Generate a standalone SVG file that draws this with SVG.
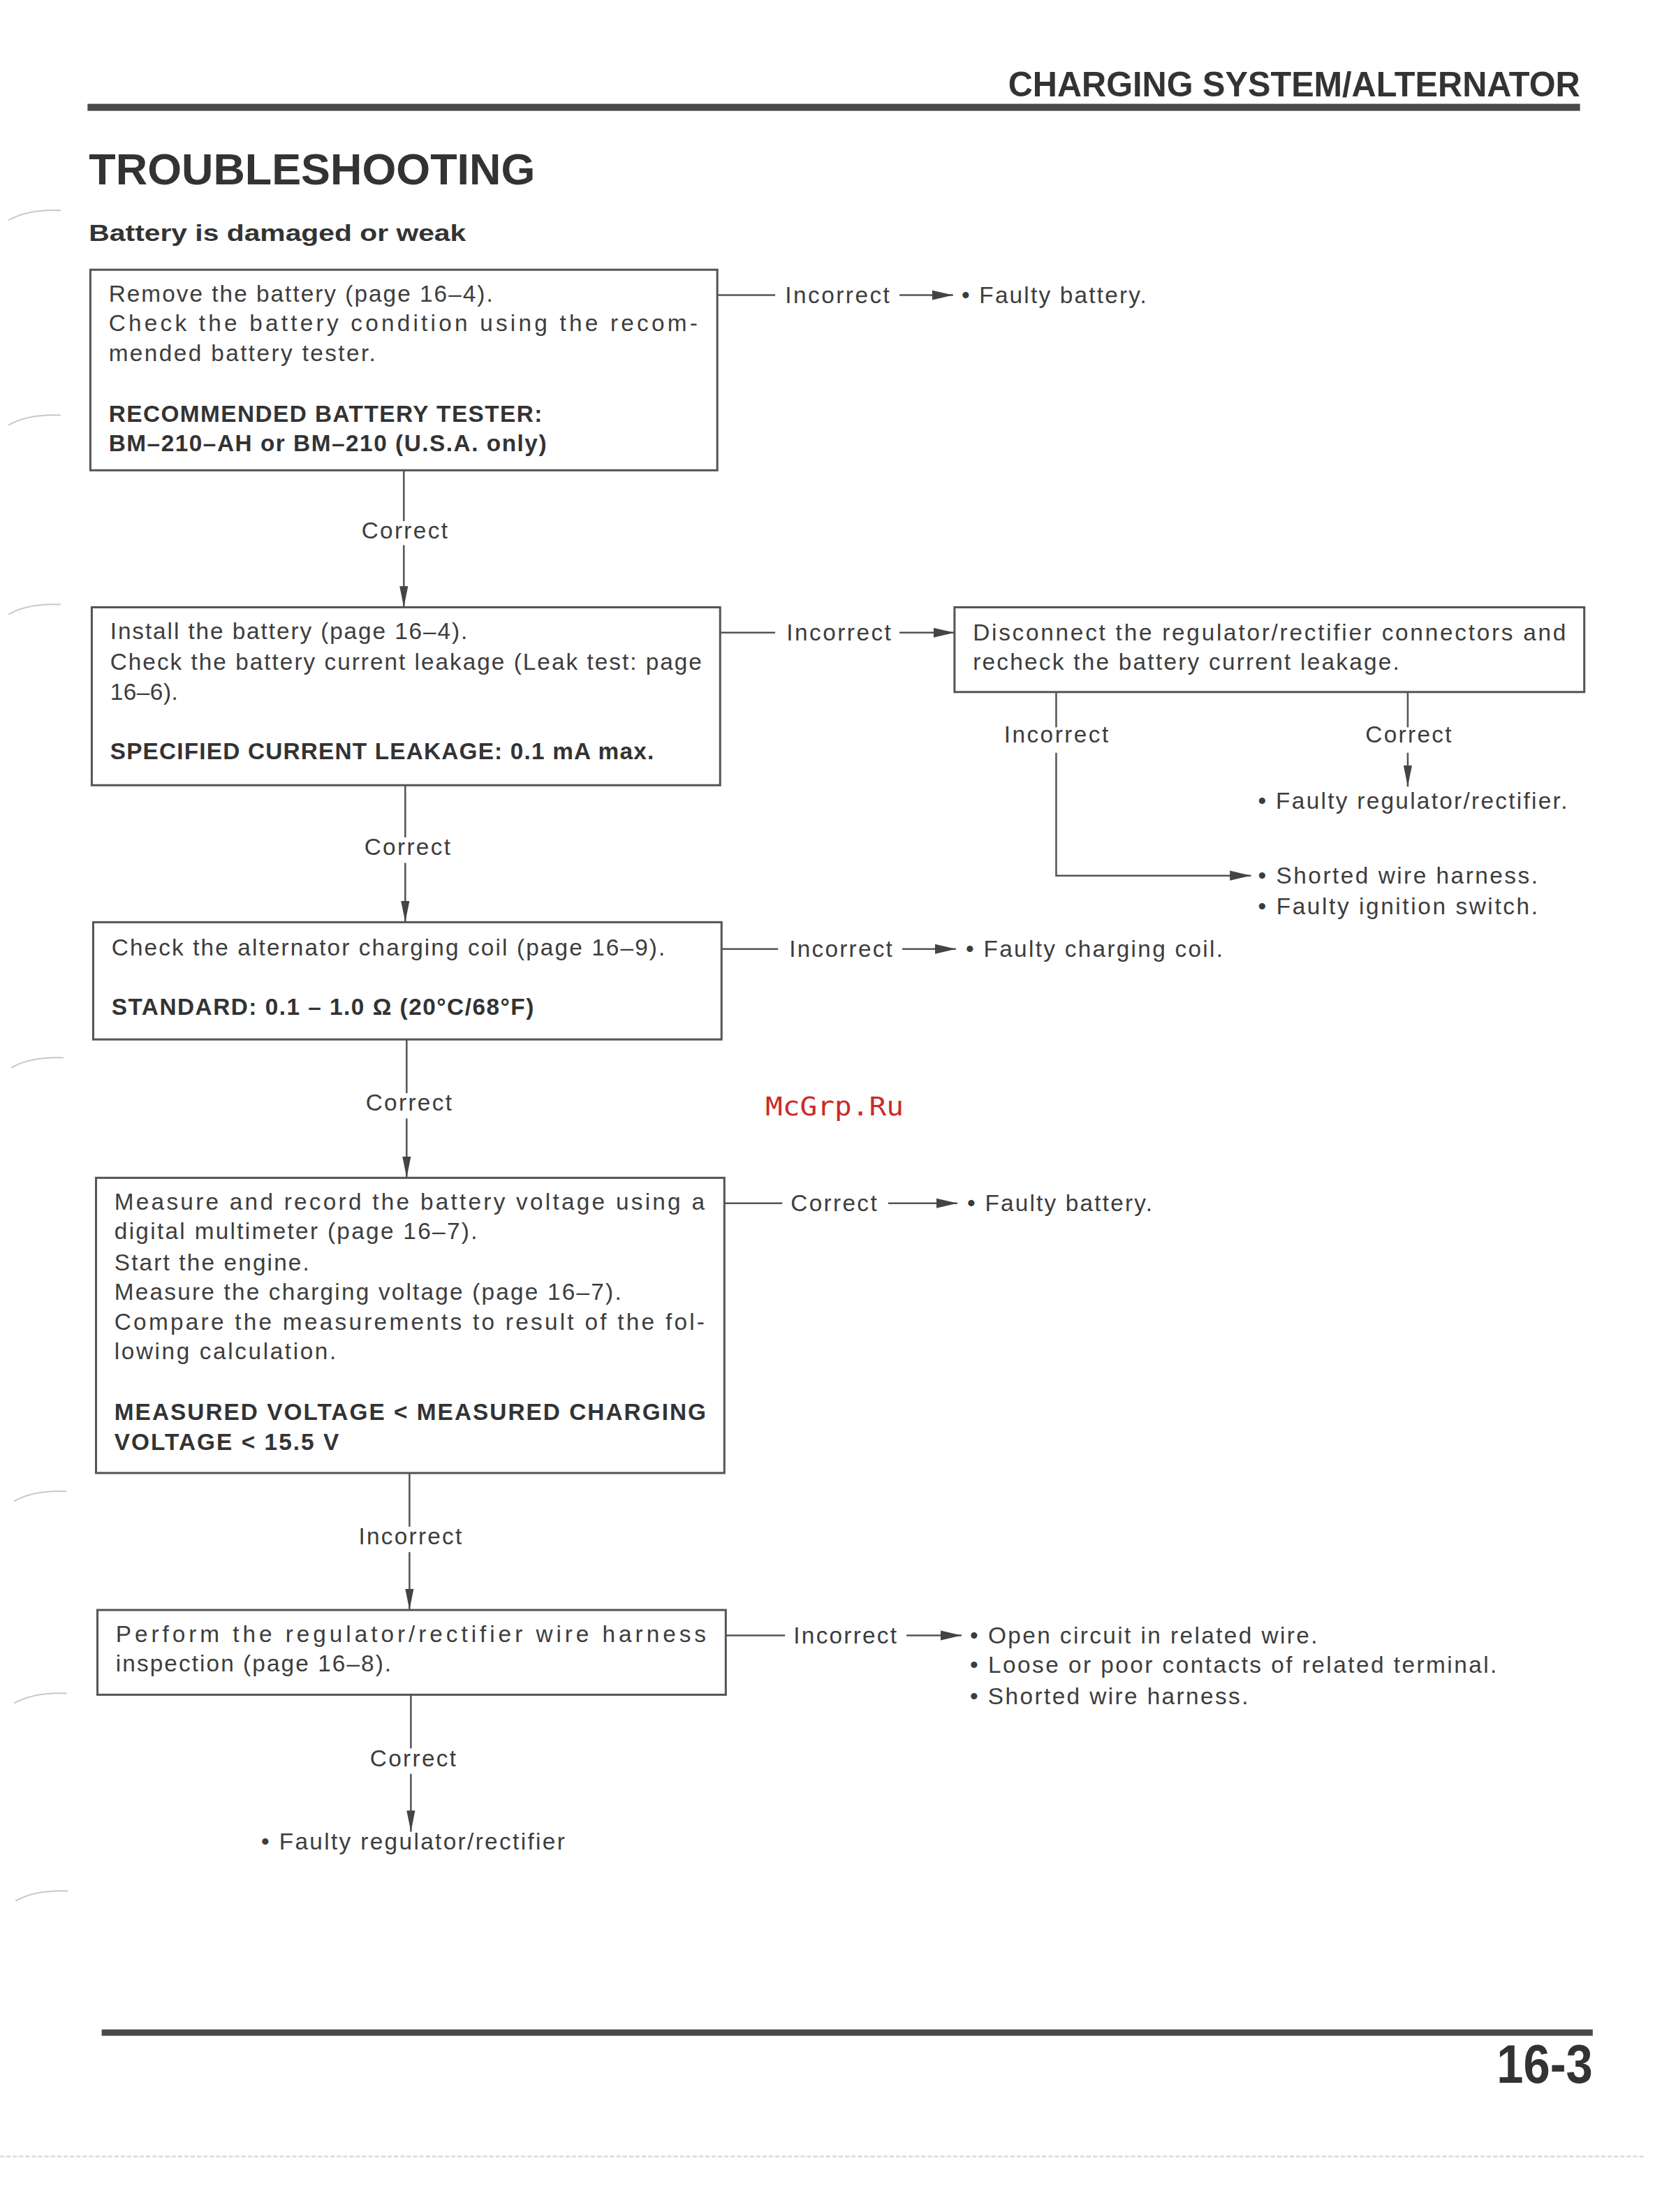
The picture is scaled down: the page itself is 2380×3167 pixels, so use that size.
<svg xmlns="http://www.w3.org/2000/svg" width="2380" height="3167" viewBox="0 0 2380 3167">
<defs>
<style>
.t{font-family:"Liberation Sans",Arial,Helvetica,sans-serif;font-size:33px;fill:#3d3d3d}
.b{font-weight:bold;fill:#333}
.box{fill:#fff;stroke:#555;stroke-width:3}
.ln{fill:none;stroke:#555;stroke-width:2.5}
.mid{text-anchor:middle}
.art{fill:none;stroke:#c8c8c8;stroke-width:2}
</style>
<marker id="ah" markerUnits="userSpaceOnUse" markerWidth="32" markerHeight="16" refX="30" refY="8" orient="auto" viewBox="0 0 32 16">
<path d="M0,1 L30,8 L0,15 Z" fill="#444"/>
</marker>
<marker id="av" markerUnits="userSpaceOnUse" markerWidth="32" markerHeight="14" refX="30" refY="7" orient="auto" viewBox="0 0 32 14">
<path d="M0,1 L30,7 L0,13 Z" fill="#444"/>
</marker>
</defs>
<rect width="2380" height="3167" fill="#fff"/>
<g transform="scale(1.011)">

<g id="artifacts">
<path class="art" d="M12,312 Q40,296 86,298"/>
<path class="art" d="M12,602 Q40,586 86,588"/>
<path class="art" d="M12,870 Q40,854 86,856"/>
<path class="art" d="M16,1512 Q44,1496 90,1498"/>
<path class="art" d="M20,2126 Q48,2110 94,2112"/>
<path class="art" d="M20,2412 Q48,2396 94,2398"/>
<path class="art" d="M22,2692 Q50,2676 96,2678"/>
<line x1="0" y1="3054" x2="2330" y2="3054" stroke="#d0d0d0" stroke-width="2" stroke-dasharray="6 3"/>
</g>

<g id="header">
<text class="t b" x="1428" y="136.5" style="font-size:49.5px" textLength="810" lengthAdjust="spacingAndGlyphs">CHARGING SYSTEM/ALTERNATOR</text>
<rect x="124" y="147" width="2114" height="10" fill="#4a4a4a"/>
<text class="t b" x="126" y="261" style="font-size:62px" textLength="632" lengthAdjust="spacingAndGlyphs">TROUBLESHOOTING</text>
<text class="t b" x="126" y="341" style="font-size:33px" textLength="534" lengthAdjust="spacingAndGlyphs">Battery is damaged or weak</text>
</g>

<g id="connectors">
<path class="ln" d="M1016,418 H1098"/>
<text class="t" x="1112" y="429" textLength="148">Incorrect</text>
<path class="ln" d="M1274,418 H1350" marker-end="url(#ah)"/>
<path class="ln" d="M1020,896 H1098"/>
<text class="t" x="1114" y="907" textLength="148">Incorrect</text>
<path class="ln" d="M1274,896 H1352" marker-end="url(#ah)"/>
<path class="ln" d="M1496,980 V1030"/>
<text class="t mid" x="1496" y="1051" textLength="148">Incorrect</text>
<path class="ln" d="M1496,1066 V1240 H1772" marker-end="url(#ah)"/>
<path class="ln" d="M1994,980 V1030"/>
<text class="t mid" x="1995" y="1051" textLength="122">Correct</text>
<path class="ln" d="M1994,1066 V1114" marker-end="url(#av)"/>
<path class="ln" d="M1022,1344 H1102"/>
<text class="t" x="1118" y="1355" textLength="146">Incorrect</text>
<path class="ln" d="M1278,1344 H1354" marker-end="url(#ah)"/>
<path class="ln" d="M1026,1704 H1108"/>
<text class="t" x="1120" y="1715" textLength="122">Correct</text>
<path class="ln" d="M1258,1704 H1356" marker-end="url(#ah)"/>
<path class="ln" d="M1028,2316 H1112"/>
<text class="t" x="1124" y="2327" textLength="146">Incorrect</text>
<path class="ln" d="M1284,2316 H1362" marker-end="url(#ah)"/>
<path class="ln" d="M572,666 V738"/>
<text class="t mid" x="573" y="763" textLength="122">Correct</text>
<path class="ln" d="M572,772 V860" marker-end="url(#av)"/>
<path class="ln" d="M574,1112 V1186"/>
<text class="t mid" x="577" y="1211" textLength="122">Correct</text>
<path class="ln" d="M574,1222 V1306" marker-end="url(#av)"/>
<path class="ln" d="M576,1472 V1548"/>
<text class="t mid" x="579" y="1573" textLength="122">Correct</text>
<path class="ln" d="M576,1584 V1668" marker-end="url(#av)"/>
<path class="ln" d="M580,2086 V2162"/>
<text class="t mid" x="581" y="2187" textLength="146">Incorrect</text>
<path class="ln" d="M580,2198 V2280" marker-end="url(#av)"/>
<path class="ln" d="M582,2400 V2476"/>
<text class="t mid" x="585" y="2501" textLength="122">Correct</text>
<path class="ln" d="M582,2512 V2594" marker-end="url(#av)"/>
</g>

<g id="n1">
<rect class="box" x="128" y="382" width="888" height="284"/>
<text class="t" x="154" y="427" textLength="544">Remove the battery (page 16–4).</text>
<text class="t" x="154" y="469" textLength="834">Check the battery condition using the recom-</text>
<text class="t" x="154" y="511" textLength="378">mended battery tester.</text>
<text class="t b" x="154" y="597" textLength="614">RECOMMENDED BATTERY TESTER:</text>
<text class="t b" x="154" y="639" textLength="620">BM–210–AH or BM–210 (U.S.A. only)</text>
</g>
<g id="o1">
<text class="t" x="1362" y="429" textLength="262">• Faulty battery.</text>
</g>

<g id="n2">
<rect class="box" x="130" y="860" width="890" height="252"/>
<text class="t" x="156" y="905" textLength="506">Install the battery (page 16–4).</text>
<text class="t" x="156" y="949" textLength="838">Check the battery current leakage (Leak test: page</text>
<text class="t" x="156" y="991" textLength="96">16–6).</text>
<text class="t b" x="156" y="1075" textLength="770">SPECIFIED CURRENT LEAKAGE: 0.1 mA max.</text>
</g>

<g id="n3">
<rect class="box" x="1352" y="860" width="892" height="120"/>
<text class="t" x="1378" y="907" textLength="840">Disconnect the regulator/rectifier connectors and</text>
<text class="t" x="1378" y="949" textLength="604">recheck the battery current leakage.</text>
</g>
<g id="o3a">
<text class="t" x="1782" y="1145" textLength="438">• Faulty regulator/rectifier.</text>
</g>
<g id="o3b">
<text class="t" x="1782" y="1251" textLength="396">• Shorted wire harness.</text>
<text class="t" x="1782" y="1295" textLength="396">• Faulty ignition switch.</text>
</g>

<g id="n4">
<rect class="box" x="132" y="1306" width="890" height="166"/>
<text class="t" x="158" y="1353" textLength="784">Check the alternator charging coil (page 16–9).</text>
<text class="t b" x="158" y="1437" textLength="598">STANDARD: 0.1 – 1.0 Ω (20°C/68°F)</text>
</g>
<g id="o4">
<text class="t" x="1368" y="1355" textLength="364">• Faulty charging coil.</text>
</g>

<g id="n5">
<rect class="box" x="136" y="1668" width="890" height="418"/>
<text class="t" x="162" y="1713" textLength="836">Measure and record the battery voltage using a</text>
<text class="t" x="162" y="1755" textLength="514">digital multimeter (page 16–7).</text>
<text class="t" x="162" y="1799" textLength="276">Start the engine.</text>
<text class="t" x="162" y="1841" textLength="718">Measure the charging voltage (page 16–7).</text>
<text class="t" x="162" y="1883" textLength="836">Compare the measurements to result of the fol-</text>
<text class="t" x="162" y="1925" textLength="314">lowing calculation.</text>
<text class="t b" x="162" y="2011" textLength="838">MEASURED VOLTAGE &lt; MEASURED CHARGING</text>
<text class="t b" x="162" y="2053" textLength="318">VOLTAGE &lt; 15.5 V</text>
</g>
<g id="o5">
<text class="t" x="1370" y="1715" textLength="262">• Faulty battery.</text>
</g>

<g id="n6">
<rect class="box" x="138" y="2280" width="890" height="120"/>
<text class="t" x="164" y="2325" textLength="836">Perform the regulator/rectifier wire harness</text>
<text class="t" x="164" y="2367" textLength="390">inspection (page 16–8).</text>
</g>
<g id="o6">
<text class="t" x="1374" y="2327" textLength="492">• Open circuit in related wire.</text>
<text class="t" x="1374" y="2369" textLength="746">• Loose or poor contacts of related terminal.</text>
<text class="t" x="1374" y="2413" textLength="394">• Shorted wire harness.</text>
</g>
<g id="o7">
<text class="t" x="370" y="2619" textLength="430">• Faulty regulator/rectifier</text>
</g>

<g id="watermark">
<text x="1084" y="1580" font-family="DejaVu Sans Mono,Liberation Mono,monospace" font-size="36" fill="#cc2a2a" textLength="196" lengthAdjust="spacingAndGlyphs">McGrp.Ru</text>
</g>

<g id="footer">
<rect x="144" y="2874" width="2112" height="9" fill="#4a4a4a"/>
<text class="t b" x="2120" y="2950" style="font-size:77px" textLength="136" lengthAdjust="spacingAndGlyphs">16-3</text>
</g>
</g>
</svg>
